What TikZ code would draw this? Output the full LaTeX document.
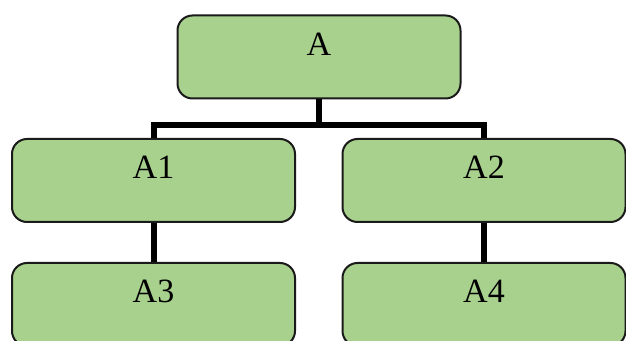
\documentclass[tikz,border=0pt]{standalone}
\usepackage{fontspec}
\setmainfont{Liberation Serif}
\usepackage{tikz}
\usetikzlibrary{calc}

\definecolor{boxgreen}{HTML}{A9D18E}
\definecolor{boxline}{HTML}{1A1A1A}

\tikzset{
  orgbox/.style={draw=boxline, line width=1pt, fill=boxgreen, rectangle,
    rounded corners=7.5pt, minimum width=141.5pt, minimum height=41.5pt,
    inner sep=0pt, text height=20pt, text depth=21.5pt,
    font=\fontsize{17}{20}\selectfont},
  orglink/.style={black, line width=3pt}
}

\begin{document}
\begin{tikzpicture}[x=0.5pt,y=0.5pt]
\useasboundingbox (0,0) rectangle (626,-341);
\node [orgbox] (A) at (319,-57) {A};
\node [orgbox] (A1) at (153.5,-180.5) {A1};
\node [orgbox] (A2) at (484,-180.5) {A2};
\node [orgbox] (A3) at (153.5,-304.5) {A3};
\node [orgbox] (A4) at (484,-304.5) {A4};
\coordinate (bus) at ($(A.south)+(0,-26)$);
\draw [orglink] (A.south) -- (bus);
\draw [orglink] (bus) -| (A1.north);
\draw [orglink] (bus) -| (A2.north);
\draw [orglink] (A1.south) -- (A3.north);
\draw [orglink] (A2.south) -- (A4.north);
\end{tikzpicture}
\end{document}
